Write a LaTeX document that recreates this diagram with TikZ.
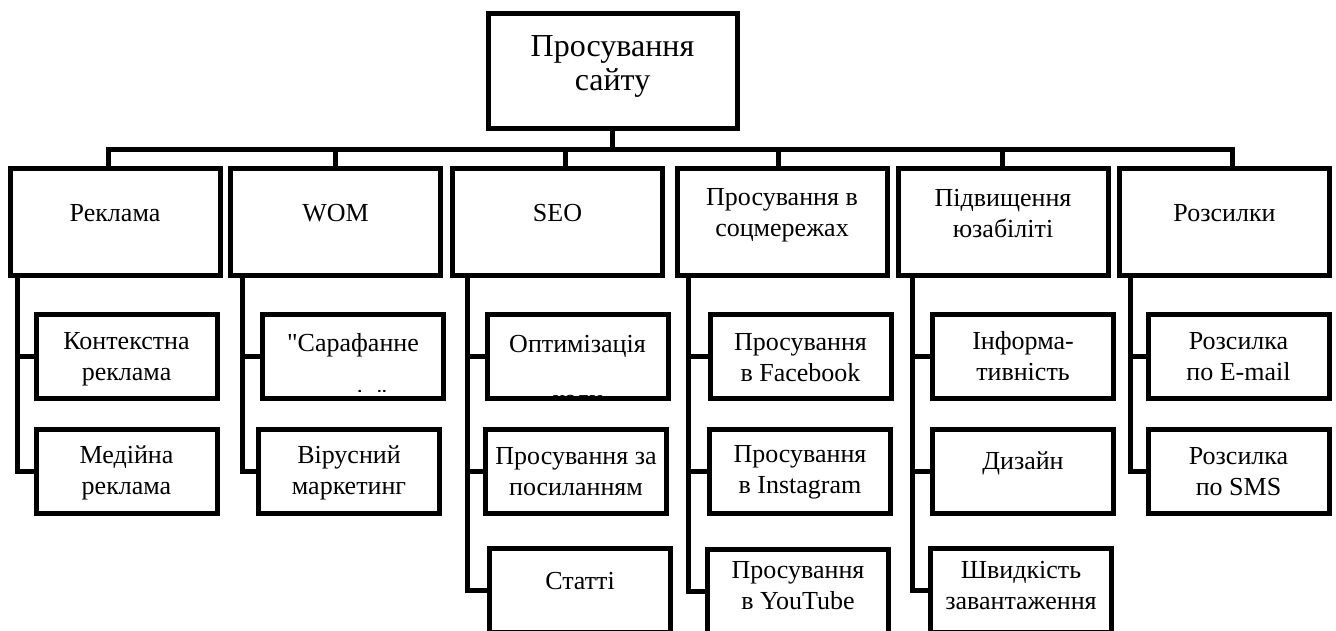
\documentclass[tikz,border=0pt]{standalone}
\usepackage{fontspec}
\setmainfont{Liberation Serif}[Ligatures=TeXOff]
\begin{document}
\begin{tikzpicture}[x=1pt,y=-1pt,
  box/.style={draw, line width=5pt, rectangle, inner sep=0pt, outer sep=0pt},
  topbox/.style={box, minimum width=249pt, minimum height=115pt},
  lvl/.style={box, minimum width=210pt, minimum height=107pt},
  child/.style={box, minimum width=181pt, minimum height=84pt},
  lbl/.style={align=center, inner sep=0pt, font=\fontsize{26}{31}\selectfont},
  toplbl/.style={align=center, inner sep=0pt, font=\fontsize{32}{34}\selectfont},
  wire/.style={line width=5pt, line join=miter}]
\clip (0,0) rectangle (1336,630);
\fill[white] (0,0) rectangle (1336,630);

% boxes
\node[topbox] (top) at (612.5,70.5) {};
\node[lvl] (r) at (115,221.5) {};
\node[lvl] (w) at (335.5,221.5) {};
\node[lvl] (s) at (557.5,221.5) {};
\node[lvl] (m) at (782,221.5) {};
\node[lvl] (u) at (1003,221.5) {};
\node[lvl] (e) at (1224.5,221.5) {};

\node[child] (r1) at (126.5,356) {};
\node[child] (r2) at (126.5,471) {};
\node[child] (w1) at (353,356) {};
\node[child] (w2) at (349,471) {};
\node[child] (s1) at (577.5,356) {};
\node[child] (s2) at (576,471) {};
\node[child] (s3) at (580,590.5) {};
\node[child] (m1) at (800.5,356) {};
\node[child] (m2) at (800,471) {};
\node[child] (m3) at (798,591) {};
\node[child] (u1) at (1023,356) {};
\node[child] (u2) at (1023,471) {};
\node[child] (u3) at (1021,590) {};
\node[child] (e1) at (1238.5,356) {};
\node[child] (e2) at (1238.5,471) {};

% bus
\coordinate (b1) at (108,149);
\coordinate (b2) at (335,149);
\coordinate (b3) at (565,149);
\coordinate (b4) at (778,149);
\coordinate (b5) at (1002,149);
\coordinate (b6) at (1232,149);
\draw[wire] (top.south) -- (top.south |- b1);
\draw[wire] (b1 |- r.north) -- (b1) -- (b6) -- (b6 |- e.north);
\draw[wire] (b2) -- (b2 |- w.north);
\draw[wire] (b3) -- (b3 |- s.north);
\draw[wire] (b4) -- (b4 |- m.north);
\draw[wire] (b5) -- (b5 |- u.north);

% child connectors
\coordinate (v1) at (17,275);
\coordinate (v2) at (242,275);
\coordinate (v3) at (467,275);
\coordinate (v4) at (688,275);
\coordinate (v5) at (912,275);
\coordinate (v6) at (1130,275);
\draw[wire] (v1) |- (r2.west);
\draw[wire] (v1 |- r1.west) -- (r1.west);
\draw[wire] (v2) |- (w2.west);
\draw[wire] (v2 |- w1.west) -- (w1.west);
\draw[wire] (v3) |- (s3.west);
\draw[wire] (v3 |- s1.west) -- (s1.west);
\draw[wire] (v3 |- s2.west) -- (s2.west);
\draw[wire] (v4) |- (m3.west);
\draw[wire] (v4 |- m1.west) -- (m1.west);
\draw[wire] (v4 |- m2.west) -- (m2.west);
\draw[wire] (v5) |- (u3.west);
\draw[wire] (v5 |- u1.west) -- (u1.west);
\draw[wire] (v5 |- u2.west) -- (u2.west);
\draw[wire] (v6) |- (e2.west);
\draw[wire] (v6 |- e1.west) -- (e1.west);

% labels
\node[toplbl] (topt) at (612.5,66) {Просування\\сайту};
\node[lbl] (rt) at (115,213.5) {Реклама};
\node[lbl] (wt) at (335.5,213.5) {WOM};
\node[lbl] (st) at (557.5,213.5) {SEO};
\node[lbl] (mt) at (782,215) {Просування в\\соцмережах};
\node[lbl] (ut) at (1003,214) {Підвищення\\юзабіліті};
\node[lbl] (et) at (1224.5,213.5) {Розсилки};

\node[lbl] (r1t) at (126.5,359) {Контекстна\\реклама};
\node[lbl] (r2t) at (126.5,473) {Медійна\\реклама};
\begin{scope}
\clip (262,314) rectangle (444,391);
\node[lbl] (w1t) at (353,373.5) {"Сарафанне\\[25pt]радіо"};
\end{scope}
\node[lbl] (w2t) at (349,473) {Вірусний\\маркетинг};
\begin{scope}
\clip (487,314) rectangle (668,395);
\node[lbl] (s1t) at (577.5,374.5) {Оптимізація\\[24pt]коду};
\end{scope}
\node[lbl] (s2t) at (576,472) {Просування за\\посиланням};
\node[lbl] (s3t) at (580,581) {Статті};
\node[lbl] (m1t) at (800.5,358) {Просування\\в Facebook};
\node[lbl] (m2t) at (800,472) {Просування\\в Instagram};
\node[lbl] (m3t) at (798,586) {Просування\\в YouTube};
\node[lbl] (u1t) at (1023,356) {Інформа-\\тивність};
\node[lbl] (u2t) at (1023,463) {Дизайн};
\node[lbl] (u3t) at (1021,586) {Швидкість\\завантаження};
\node[lbl] (e1t) at (1238.5,356.5) {Розсилка\\по E-mail};
\node[lbl] (e2t) at (1238.5,471.5) {Розсилка\\по SMS};
\end{tikzpicture}
\end{document}
